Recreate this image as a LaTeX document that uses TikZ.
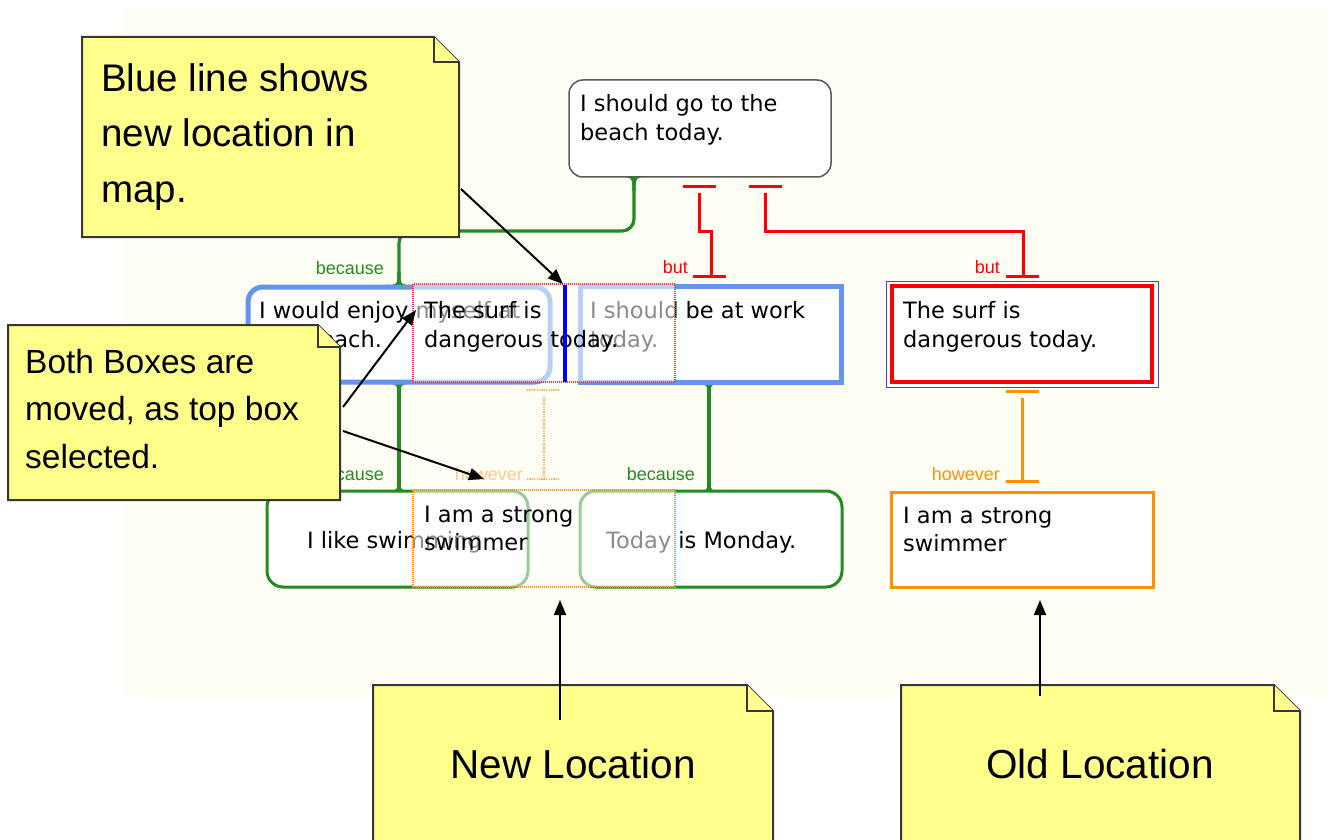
\documentclass[tikz,border=0pt]{standalone}
\usepackage{fontspec}
\setmainfont{DejaVu Sans}
\newfontfamily\labfont{Liberation Sans}
\newfontfamily\notefont{Liberation Sans}
\usetikzlibrary{arrows.meta}
\definecolor{cream}{RGB}{255,254,245}
\definecolor{ngreen}{RGB}{34,139,34}
\definecolor{nblue}{RGB}{100,149,237}
\definecolor{norange}{RGB}{255,145,0}
\definecolor{lorange}{RGB}{255,200,140}
\definecolor{dorange}{RGB}{255,175,80}
\definecolor{noteyellow}{RGB}{255,255,140}
\definecolor{noteline}{RGB}{55,55,55}
\definecolor{topline}{RGB}{90,90,90}
\tikzset{
  btxt/.style={anchor=base west, inner sep=0pt, font=\fontsize{22.5}{29}\selectfont},
  lab/.style={anchor=base east, inner sep=0pt, font=\labfont\fontsize{18}{20}\selectfont},
  notetxt/.style={anchor=base west, inner sep=0pt, font=\notefont},
  gline/.style={draw=ngreen, line width=3.2pt},
  rline/.style={draw=red, line width=3pt},
  oline/.style={draw=norange, line width=3pt},
  ghostline/.style={draw=dorange, line width=1.5pt, dash pattern=on 1.2pt off 1.2pt},
  notebox/.style={draw=noteline, line width=2pt, fill=noteyellow, line join=miter},
  ptr/.style={draw=black, line width=2pt, -{Triangle[length=15pt,width=12pt]}},
  overlay/.style={fill=white, opacity=0.55}
}
\newcommand\flare[4]{%
  \fill[#4] ({#1-13},#2) .. controls ({#1-1.6},#2) .. ({#1-1.6},{#2+(#3)*13})
    -- ({#1+1.6},{#2+(#3)*13}) .. controls ({#1+1.6},#2) .. ({#1+13},#2) -- cycle;}
\newcommand\stickynote[5]{%
  \draw[notebox] (#1,#2) -- ({#3-#5},#2) -- (#3,{#2+#5}) -- (#3,#4) -- (#1,#4) -- cycle;
  \draw[notebox] ({#3-#5},#2) -- ({#3-#5},{#2+#5}) -- (#3,{#2+#5});}
\begin{document}
\begin{tikzpicture}[x=1pt,y=-1pt]
\useasboundingbox (0,0) rectangle (1331,840);
\clip (0,0) rectangle (1331,840);
\fill[white] (0,0) rectangle (1331,840);
\fill[cream] (123,8) rectangle (1328,697);

% ---------- connectors ----------
% green: top claim -> left premise
\draw[gline, rounded corners=12] (634,178) -- (634,231) -- (399,231) -- (399,286);
\fill[ngreen] (617,177) .. controls (632.4,177) .. (632.4,191) -- (635.6,191) .. controls (635.6,177) .. (651,177) -- cycle;
\flare{399}{285}{-1}{ngreen}
% red: top claim -> right premise (but)
\draw[rline] (683,186) -- (716,186);
\draw[rline] (699,193) -- (699,231) -- (711,231) -- (711,276);
\draw[rline] (693,276) -- (726,276);
% red: top claim -> old surf box (but)
\draw[rline] (749,186) -- (782,186);
\draw[rline] (765,193) -- (765,231) -- (1023,231) -- (1023,276);
\draw[rline] (1006,276) -- (1039,276);
% orange: old surf -> old swimmer (however)
\draw[oline] (1006,391) -- (1039,391);
\draw[oline] (1022,398) -- (1022,481);
\draw[oline] (1006,481) -- (1039,481);
% green: premises -> bottom boxes
\draw[gline] (399,384) -- (399,491);
\draw[gline] (709,384) -- (709,491);
\flare{399}{384}{1}{ngreen}
\flare{709}{384}{1}{ngreen}
\flare{399}{491}{-1}{ngreen}
\flare{709}{491}{-1}{ngreen}

% ---------- boxes ----------
\draw[fill=white, draw=topline, line width=1.5pt, rounded corners=14] (569,80) rectangle (831,177);
\node[btxt] (claim1) at (580,112) {I should go to the};
\node[btxt] (claim2) at (580,141) {beach today.};

\draw[fill=white, draw=nblue, line width=5pt, rounded corners=15] (248,287) rectangle (550,382);
\node[btxt] (prem1a) at (259,318) {I would enjoy myself at};
\node[btxt] (prem1b) at (262,347) {the beach.};
\draw[fill=white, draw=nblue, line width=5pt] (580,286) rectangle (841,382);
\node[btxt] (prem2a) at (590,318) {I should be at work};
\node[btxt] (prem2b) at (590,347) {today.};

\draw[fill=white, draw=blue!75, line width=1pt] (886,281) rectangle (1158,387);
\draw[fill=white, draw=red, line width=4pt] (892,286) rectangle (1152,382);
\node[btxt] (oldsurf1) at (903,318) {The surf is};
\node[btxt] (oldsurf2) at (903,347) {dangerous today.};

\draw[fill=white, draw=norange, line width=3pt] (891,492) rectangle (1153,587);
\node[btxt] (oldswim1) at (903,523) {I am a strong};
\node[btxt] (oldswim2) at (903,551) {swimmer};

\draw[fill=white, draw=ngreen, line width=3pt, rounded corners=16] (267,491) rectangle (528,587);
\node[btxt] (likeswim) at (307,548) {I like swimming};
\draw[fill=white, draw=ngreen, line width=3pt, rounded corners=16] (580,491) rectangle (842,587);
\node[btxt] (monday) at (606,548) {Today is Monday.};

% ---------- labels ----------
\node[lab, text=ngreen] (lb1) at (384,274) {because};
\node[lab, text=red] (lb2) at (688,273) {but};
\node[lab, text=red] (lb3) at (1000,273) {but};
\node[lab, text=norange] (lb4) at (1000,480) {however};
\node[lab, text=ngreen] (lb5) at (384,480) {because};
\node[lab, text=ngreen] (lb6) at (695,480) {because};

% ---------- ghost (dragged) boxes ----------
\fill[overlay] (413,284) rectangle (675,382);
\fill[overlay] (413,490) rectangle (675,587);
\draw[red!80, line width=1.2pt, dash pattern=on 1pt off 1pt] (413,284) rectangle (675,382);
\draw[norange, line width=1.2pt, dash pattern=on 1pt off 1pt] (413,490) rectangle (675,587);
\node[btxt] (ghost1a) at (424,318) {The surf is};
\node[btxt] (ghost1b) at (424,347) {dangerous today.};
\node[btxt] (ghost2a) at (424,522) {I am a strong};
\node[btxt] (ghost2b) at (424,550) {swimmer};
\draw[ghostline] (527,390) -- (559,390);
\draw[ghostline] (544,397) -- (544,479);
\draw[ghostline] (527,479) -- (559,479);
\node[lab, text=lorange] (lb7) at (523,480) {however};
% insertion marker
\draw[blue, line width=3.5pt] (565,285) -- (565,382);

% ---------- notes ----------
\stickynote{82}{37}{459}{237}{25}
\node[notetxt, font=\notefont\fontsize{38.5}{54}\selectfont] (n1a) at (101,92) {Blue line shows};
\node[notetxt, font=\notefont\fontsize{38.5}{54}\selectfont] (n1b) at (101,147) {new location in};
\node[notetxt, font=\notefont\fontsize{38.5}{54}\selectfont] (n1c) at (101,202) {map.};
\stickynote{8}{325}{340}{500}{22}
\node[notetxt, font=\notefont\fontsize{33.5}{48}\selectfont] (n2a) at (25,373) {Both Boxes are};
\node[notetxt, font=\notefont\fontsize{33.5}{48}\selectfont] (n2b) at (25,420) {moved, as top box};
\node[notetxt, font=\notefont\fontsize{33.5}{48}\selectfont] (n2c) at (25,468) {selected.};
\stickynote{373}{685}{773}{860}{26}
\node[inner sep=0pt, anchor=base, font=\notefont\fontsize{40.5}{48}\selectfont] (n3) at (573,778) {New Location};
\stickynote{901}{685}{1300}{860}{26}
\node[inner sep=0pt, anchor=base, font=\notefont\fontsize{40.5}{48}\selectfont] (n4) at (1100,778) {Old Location};

% ---------- arrows ----------
\coordinate (a1s) at (461,189); \coordinate (a1e) at (563,284);
\coordinate (a2s) at (343,407); \coordinate (a2e) at (416,310);
\coordinate (a3s) at (343,431); \coordinate (a3e) at (484,479);
\coordinate (a4s) at (560,720); \coordinate (a4e) at (560,600);
\coordinate (a5s) at (1040,696); \coordinate (a5e) at (1040,600);
\draw[ptr] (a1s) -- (a1e);
\draw[ptr] (a2s) -- (a2e);
\draw[ptr] (a3s) -- (a3e);
\draw[ptr] (a4s) -- (a4e);
\draw[ptr] (a5s) -- (a5e);
\end{tikzpicture}
\end{document}
